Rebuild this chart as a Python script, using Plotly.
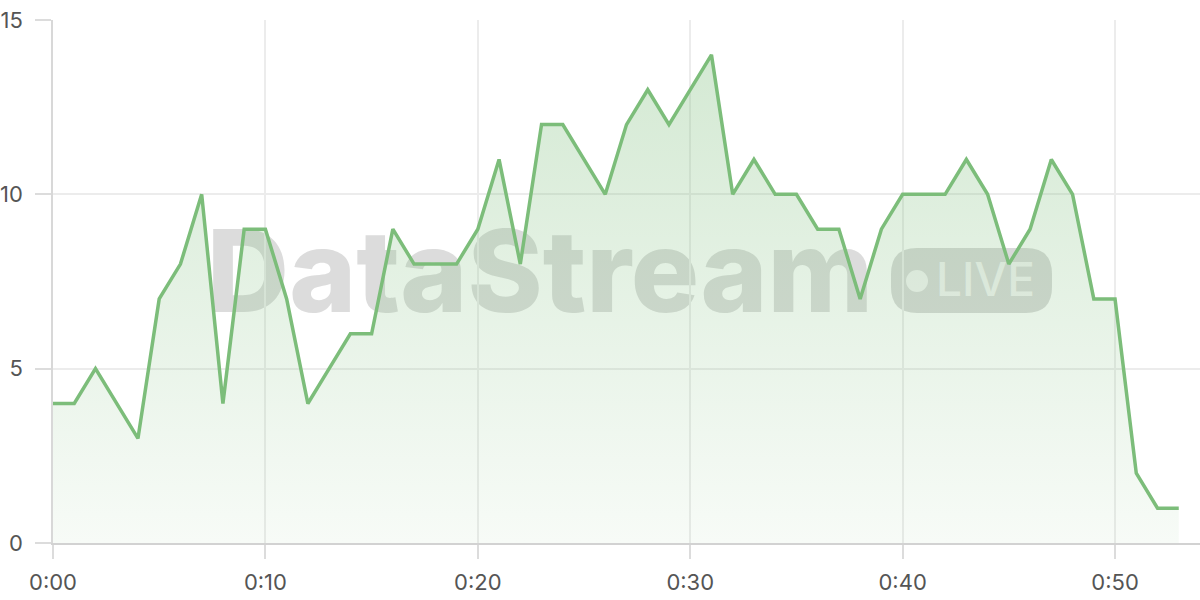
import plotly.graph_objects as go

# minutes since start and the value at each minute
minutes = list(range(54))
values = [4, 4, 5, 4, 3, 7, 8, 10, 4, 9,
          9, 7, 4, 5, 6, 6, 9, 8, 8, 8,
          9, 11, 8, 12, 12, 11, 10, 12, 13, 12,
          13, 14, 10, 11, 10, 10, 9, 9, 7, 9,
          10, 10, 10, 11, 10, 8, 9, 11, 10, 7,
          7, 2, 1, 1]

x_ticks = [0, 10, 20, 30, 40, 50]
x_labels = ["0:00", "0:10", "0:20", "0:30", "0:40", "0:50"]
y_ticks = [0, 5, 10, 15]

green = "rgb(124,189,122)"

fig = go.Figure()
fig.add_trace(go.Scatter(
    x=minutes, y=values,
    mode="lines",
    line=dict(color=green, width=3.5),
    fill="tozeroy",
    fillgradient=dict(
        type="vertical",
        start=0, stop=14,
        colorscale=[[0, "rgba(124,189,122,0.06)"], [1, "rgba(124,189,122,0.33)"]],
    ),
    hoverinfo="skip",
))

# plot area in pixels: x 53..1200, y 20..543
W, H, L, T = 1147.0, 523.0, 53.0, 20.0


def px(x):
    return (x - L) / W


def py(y):
    return 1 - (y - T) / H


# rounded "LIVE" pill
x0, x1, y0, y1, r = 891, 1052, 248, 313, 26
rx, ry = r / W, r / H
a, b, c, d = px(x0), px(x1), py(y1), py(y0)
pill = (f"M {a+rx},{c} L {b-rx},{c} Q {b},{c} {b},{c+ry} L {b},{d-ry} Q {b},{d} {b-rx},{d} "
        f"L {a+rx},{d} Q {a},{d} {a},{d-ry} L {a},{c+ry} Q {a},{c} {a+rx},{c} Z")

wm_gray = "rgba(120,120,120,0.26)"
shapes = [
    dict(type="rect", xref="paper", yref="paper", layer="below",
         x0=px(150), x1=px(930), y0=py(196), y1=py(336),
         line=dict(width=0), fillcolor="rgba(0,0,0,0)",
         label=dict(text="DataStream", textposition="middle center",
                    font=dict(family="Inter", size=114, color=wm_gray, weight=800))),
    dict(type="path", xref="paper", yref="paper", layer="below", path=pill,
         line=dict(width=0), fillcolor="rgba(120,120,120,0.28)"),
    dict(type="circle", xref="paper", yref="paper", layer="below",
         xsizemode="pixel", ysizemode="pixel",
         xanchor=px(917), yanchor=py(281),
         x0=-11, x1=11, y0=-11, y1=11,
         line=dict(width=0), fillcolor="rgba(255,255,255,0.7)"),
    dict(type="rect", xref="paper", yref="paper", layer="below",
         x0=px(930), x1=px(1041), y0=py(248), y1=py(308),
         line=dict(width=0), fillcolor="rgba(0,0,0,0)",
         label=dict(text="LIVE", textposition="middle center",
                    font=dict(family="Inter", size=46, color="rgba(255,255,255,0.7)",
                              weight=500))),
]

fig.update_layout(
    width=1200, height=600,
    margin=dict(l=53, r=0, t=20, b=57),
    paper_bgcolor="white", plot_bgcolor="white",
    showlegend=False,
    shapes=shapes,
    font=dict(family="Inter", size=22, color="#555"),
)

tick_font = dict(family="Inter", size=22, color="#555")

fig.update_xaxes(
    range=[0, 54], automargin=False,
    tickvals=x_ticks, ticktext=x_labels, tickfont=tick_font,
    showgrid=True, gridcolor="#ececec", gridwidth=1.5,
    ticks="outside", ticklen=14, tickcolor="#dcdcdc", tickwidth=1.5,
    showline=True, linecolor="#d2d2d2", linewidth=2,
    zeroline=False, ticklabelstandoff=5,
)
fig.update_yaxes(
    range=[0, 15], automargin=False,
    tickvals=y_ticks, tickfont=tick_font,
    showgrid=True, gridcolor="#ececec", gridwidth=1.5,
    ticks="outside", ticklen=16, tickcolor="#dcdcdc", tickwidth=1.5,
    showline=True, linecolor="#d8d8d8", linewidth=1.5,
    zeroline=False, ticklabelstandoff=8,
)

# the page has a default 8px body margin; drop it so the figure fills the window
fig.write_html("out.html", config={"displayModeBar": False},
               post_script="document.body.style.margin = '0';")
